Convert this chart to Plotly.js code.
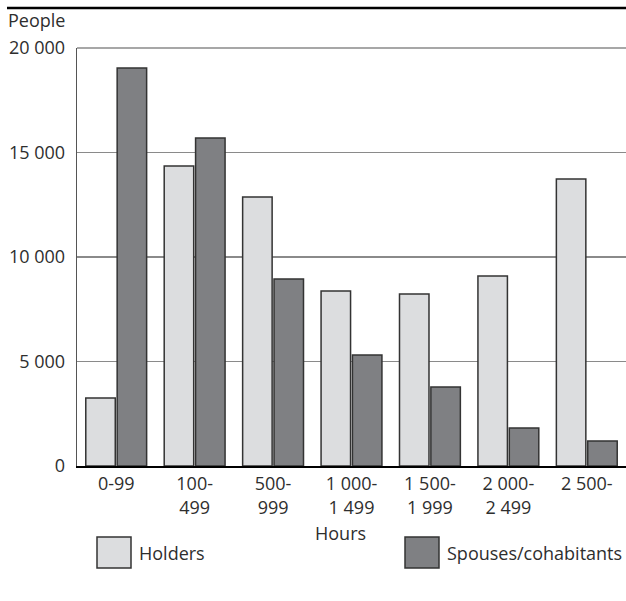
<!DOCTYPE html>
<html><head><meta charset="utf-8">
<script src="https://cdn.plot.ly/plotly-3.0.1.min.js"></script>
<style>body{margin:0;padding:0;background:#fff}#chart{width:626px;height:601px}</style>
</head><body><div id="chart"></div>
<script>
const categories = ["0-99", "100-<br>499", "500-<br>999", "1 000-<br>1 499", "1 500-<br>1 999", "2 000-<br>2 499", "2 500-"];
const holders = [3250, 14350, 12870, 8370, 8230, 9090, 13730];
const spouses = [19040, 15690, 8950, 5310, 3780, 1820, 1200];
const seriesNames = ["Holders", "Spouses/cohabitants"];
const yTickVals = [0, 5000, 10000, 15000, 20000];
const yTickText = ["0", "5 000", "10 000", "15 000", "20 000"];

const txt = '#2e2e2e';
const fs = 18;
const font = {family: '"Open Sans", "DejaVu Sans", sans-serif', size: fs, color: txt};

const data = [
  {type: 'bar', x: categories, y: holders, name: seriesNames[0],
   marker: {color: '#dcdddf', line: {color: '#333333', width: 1.5}}},
  {type: 'bar', x: categories, y: spouses, name: seriesNames[1],
   marker: {color: '#7f8083', line: {color: '#333333', width: 1.5}}}
];

const W = 549, H = 418;
const px = v => (v - 77) / W;
const py = v => (466 - v) / H;

const layout = {
  width: 626, height: 601,
  margin: {l: 77, r: 0, t: 48, b: 135},
  paper_bgcolor: '#fff', plot_bgcolor: '#fff',
  font: font,
  showlegend: false,
  barmode: 'group', bargap: 0.2, bargroupgap: 0.06,
  xaxis: {type: 'category', showgrid: false, showline: true, linecolor: '#000', linewidth: 1.5,
          ticks: '', ticklabelstandoff: 1, tickfont: {size: fs, color: txt}, zeroline: false},
  yaxis: {range: [0, 20000], tickvals: yTickVals, ticktext: yTickText, showgrid: true,
          gridcolor: '#8a8a8a', gridwidth: 1.3, showline: true, linecolor: '#555', linewidth: 1.3,
          ticks: '', ticklabelstandoff: 7, tickfont: {size: fs, color: txt}, zeroline: false},
  shapes: [
    {type: 'line', xref: 'paper', yref: 'paper', x0: px(7), x1: px(626), y0: py(8), y1: py(8),
     line: {color: '#000', width: 2.5}},
    {type: 'line', xref: 'paper', yref: 'paper', x0: 0, x1: 1, y0: 1, y1: 1,
     line: {color: '#8a8a8a', width: 1.3}},
    {type: 'rect', xref: 'paper', yref: 'paper', x0: px(97), x1: px(131), y0: py(537), y1: py(568),
     fillcolor: '#dcdddf', line: {color: '#333', width: 1.5}},
    {type: 'rect', xref: 'paper', yref: 'paper', x0: px(405), x1: px(439), y0: py(537), y1: py(568),
     fillcolor: '#7f8083', line: {color: '#333', width: 1.5}}
  ],
  annotations: [
    {text: 'People', xref: 'paper', yref: 'paper', x: px(6), y: py(20), xanchor: 'left', yanchor: 'middle',
     showarrow: false, font: {size: fs, color: txt}},
    {text: 'Hours', xref: 'paper', yref: 'paper', x: px(340), y: py(533), xanchor: 'center', yanchor: 'middle',
     showarrow: false, font: {size: fs, color: txt}},
    {text: seriesNames[0], xref: 'paper', yref: 'paper', x: px(137), y: py(553), xanchor: 'left', yanchor: 'middle',
     showarrow: false, font: {size: fs, color: txt}},
    {text: seriesNames[1], xref: 'paper', yref: 'paper', x: px(445), y: py(553), xanchor: 'left', yanchor: 'middle',
     showarrow: false, font: {size: fs, color: txt}}
  ]
};

Plotly.newPlot('chart', data, layout, {displayModeBar: false, staticPlot: true});
</script></body></html>
